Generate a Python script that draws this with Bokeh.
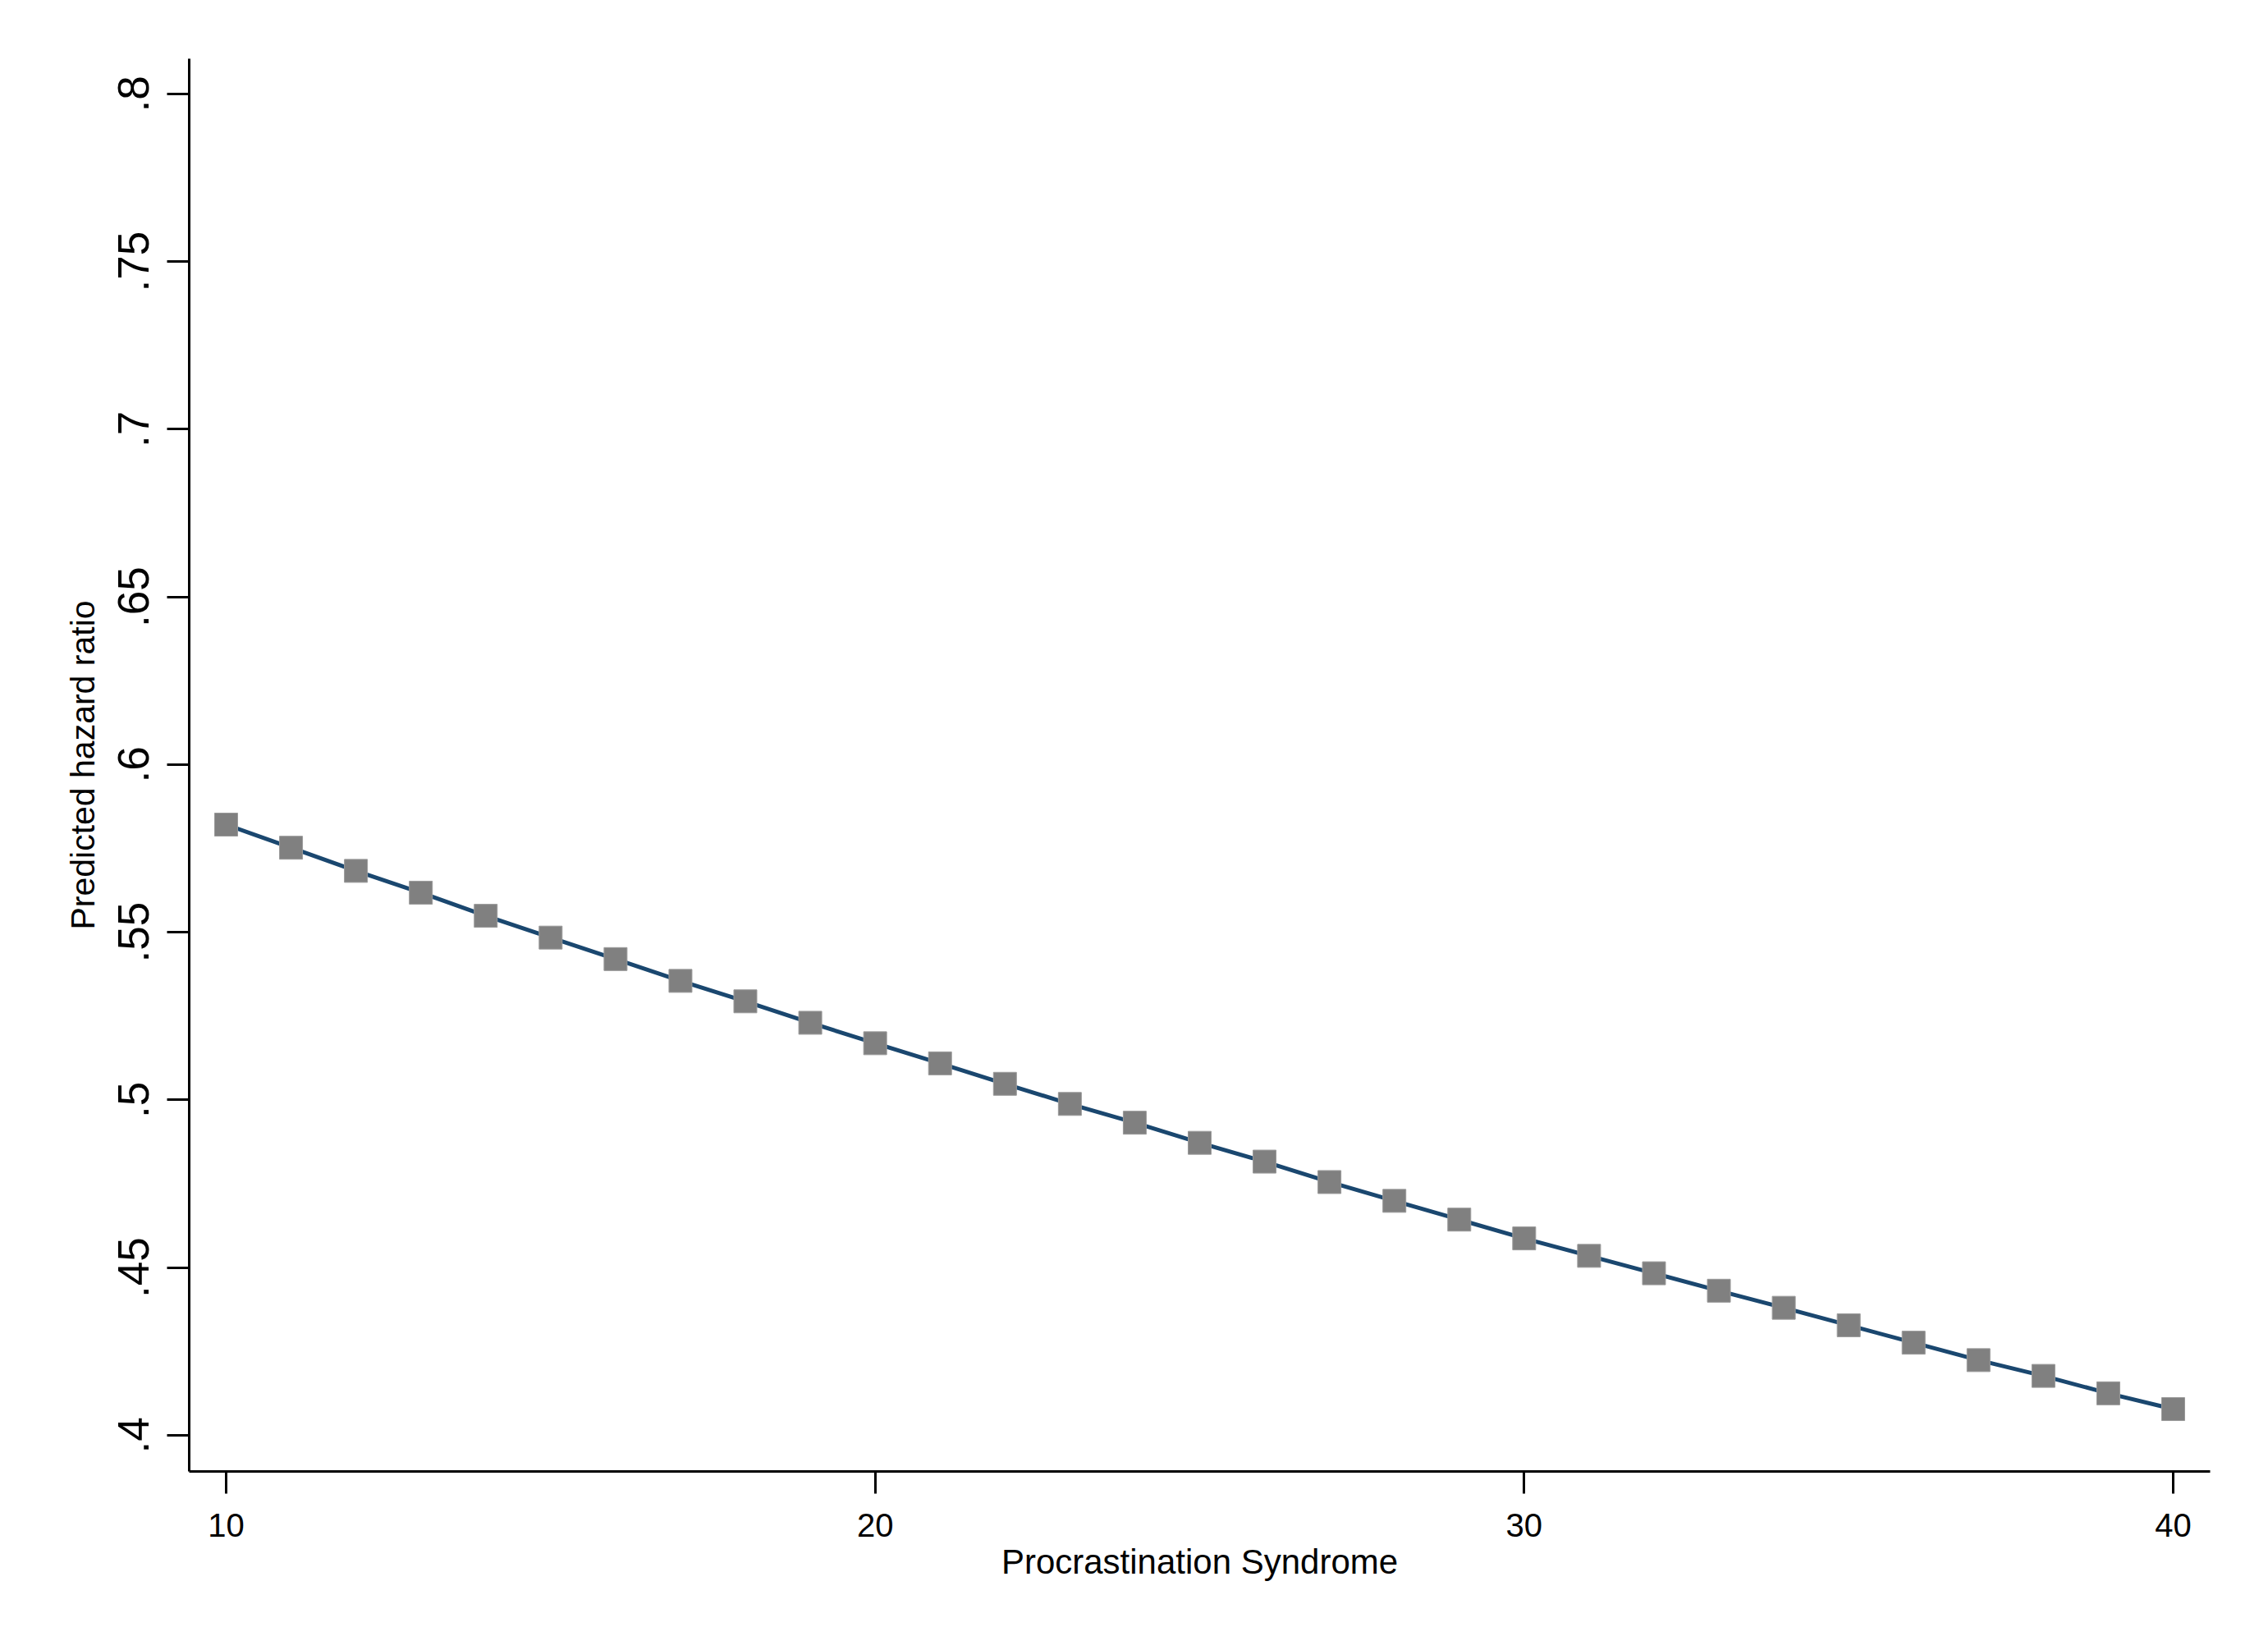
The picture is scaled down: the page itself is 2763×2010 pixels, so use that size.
from bokeh.plotting import figure
from bokeh.models import FixedTicker, Range1d, ColumnDataSource
from bokeh.embed import file_html
from bokeh.resources import INLINE

# Data
procrastination = [10, 11, 12, 13, 14, 15, 16, 17, 18, 19, 20, 21, 22, 23, 24, 25,
                   26, 27, 28, 29, 30, 31, 32, 33, 34, 35, 36, 37, 38, 39, 40]
hazard_ratio = [0.5821, 0.5752, 0.5683, 0.5618, 0.5549, 0.5484, 0.5420, 0.5355,
                0.5294, 0.5230, 0.5169, 0.5109, 0.5048, 0.4988, 0.4932, 0.4872,
                0.4816, 0.4755, 0.4699, 0.4643, 0.4587, 0.4535, 0.4483, 0.4431,
                0.4380, 0.4328, 0.4276, 0.4224, 0.4177, 0.4125, 0.4078]

x_ticks = [10, 20, 30, 40]
y_ticks = [0.4, 0.45, 0.5, 0.55, 0.6, 0.65, 0.7, 0.75, 0.8]
y_tick_labels = [".4", ".45", ".5", ".55", ".6", ".65", ".7", ".75", ".8"]

x_title = "Procrastination Syndrome"
y_title = "Predicted hazard ratio"

FONT = "Liberation Sans"

src = ColumnDataSource(data=dict(x=procrastination, y=hazard_ratio))

p = figure(width=2747, height=1994, output_backend="svg", toolbar_location=None,
           x_range=Range1d(9.431, 40.569), y_range=Range1d(0.3892, 0.8105),
           min_border_left=230, min_border_right=55, min_border_top=71,
           min_border_bottom=202)
p.outline_line_color = None
p.background_fill_color = "white"
p.border_fill_color = "white"
p.xgrid.visible = False
p.ygrid.visible = False

p.line("x", "y", source=src, line_color="#1a476f", line_width=5)
p.scatter("x", "y", source=src, marker="square", size=28,
          fill_color="#808080", line_color="#9a9a9a", line_width=1)

for ax in (p.xaxis[0], p.yaxis[0]):
    ax.axis_line_color = "black"
    ax.axis_line_width = 3
    ax.major_tick_line_color = "black"
    ax.major_tick_line_width = 3
    ax.major_tick_out = 27
    ax.major_tick_in = 0
    ax.minor_tick_line_color = None
    ax.major_label_text_font = FONT
    ax.axis_label_text_font = FONT
    ax.axis_label_text_font_style = "normal"
    ax.axis_label_text_color = "black"
    ax.major_label_text_color = "black"

p.xaxis.ticker = FixedTicker(ticks=x_ticks)
p.xaxis.major_label_text_font_size = "40px"
p.xaxis.major_label_standoff = 24
p.xaxis.axis_label = x_title
p.xaxis.axis_label_text_font_size = "42px"
p.xaxis.axis_label_standoff = 4

p.yaxis.ticker = FixedTicker(ticks=y_ticks)
p.yaxis.major_label_overrides = {t: l for t, l in zip(y_ticks, y_tick_labels)}
p.yaxis.major_label_orientation = "vertical"
p.yaxis.major_label_text_font_size = "53px"
p.yaxis.major_label_standoff = 22
p.yaxis.axis_label = y_title
p.yaxis.axis_label_text_font_size = "41px"
p.yaxis.axis_label_standoff = 18

open("out.html", "w").write(file_html(p, INLINE))
